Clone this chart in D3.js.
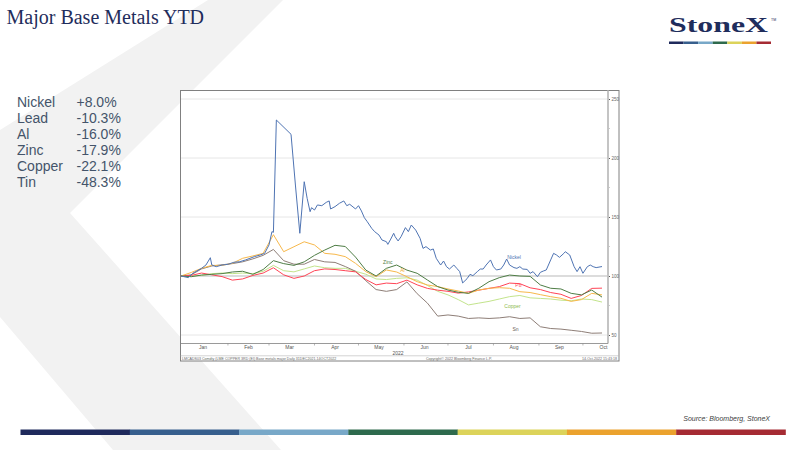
<!DOCTYPE html>
<html>
<head>
<meta charset="utf-8">
<script src="https://cdn.jsdelivr.net/npm/d3@7"></script>
<style>
  html, body { margin: 0; padding: 0; background: #fff; }
  svg { display: block; }
</style>
</head>
<body>
<svg id="chart" width="800" height="450"></svg>
<script>
const width = 800;
const height = 450;

// YTD change table on the left
const metalNames = ["Nickel", "Lead", "Al", "Zinc", "Copper", "Tin"];
const metalChanges = ["+8.0%", "-10.3%", "-16.0%", "-17.9%", "-22.1%", "-48.3%"];

// weekly closes, rebased to 100 on 31 Dec 2021
const weekDates = [
  "2021-12-31", "2022-01-07", "2022-01-14", "2022-01-21", "2022-01-28", "2022-02-04",
  "2022-02-11", "2022-02-18", "2022-02-25", "2022-03-04", "2022-03-11", "2022-03-18",
  "2022-03-25", "2022-04-01", "2022-04-08", "2022-04-15", "2022-04-22", "2022-04-29",
  "2022-05-06", "2022-05-13", "2022-05-20", "2022-05-27", "2022-06-03", "2022-06-10",
  "2022-06-17", "2022-06-24", "2022-07-01", "2022-07-08", "2022-07-15", "2022-07-22",
  "2022-07-29", "2022-08-05", "2022-08-12", "2022-08-19", "2022-08-26", "2022-09-02",
  "2022-09-09", "2022-09-16", "2022-09-23", "2022-09-30", "2022-10-07", "2022-10-14"
];
const alValues = [100, 103, 106.5, 109, 109, 110.7, 115, 117, 119.2, 135, 120.6, 124.8, 129, 126.3,
  119.2, 118.4, 116.4, 110.7, 103.7, 99.4, 105.1, 103.4, 99.4, 95.2, 92.4, 91, 89, 87.3, 85.3, 88.1,
  89.6, 90.1, 89.6, 86.7, 86, 84.2, 82.5, 81.1, 78.5, 80, 85.3, 84];
const zincValues = [100, 99.4, 100.8, 101.4, 102, 103.4, 104, 101.4, 105.5, 113, 110.5, 109, 112, 117.5,
  122, 126, 125, 116, 105, 100, 106.5, 109.3, 105, 102.3, 96.6, 91, 88.1, 86.2, 85.3, 89.6,
  95.2, 98.6, 100.8, 100, 99.7, 92.4, 89.6, 89, 85.3, 84, 88.1, 82.1];
const leadValues = [100, 100.5, 102.5, 101, 99.5, 96.5, 97.5, 100.5, 102.5, 107, 101, 98, 100, 104.5,
  106, 105.5, 104.5, 103.5, 97, 92.5, 94, 93.5, 96.5, 92.5, 89.5, 88, 87, 85.5, 86.5, 88,
  89.5, 91, 94, 93.5, 90, 88.5, 86, 84.5, 81, 83.5, 89.5, 89.7];
const copperValues = [100, 100, 100.5, 102, 102.5, 102, 102.5, 102, 104, 109, 104.5, 103.5, 106, 108.5,
  107, 106.5, 106.5, 104, 101.5, 97.5, 97, 98, 98.5, 96.5, 92, 87, 84, 80, 75.5, 77,
  78.5, 80.5, 82.5, 83.5, 81.5, 81, 80.5, 79.5, 79, 80.5, 80, 77.9];
const tinValues = [100, 101, 106, 108.5, 109.5, 110.5, 112, 114.5, 117.5, 122.5, 113, 110, 110, 114,
  112, 111.5, 108, 104, 96, 88.5, 87, 88.5, 95, 85, 77, 66, 67, 66, 64, 64.5,
  64, 64.5, 65.5, 64, 64.5, 57, 55.5, 55, 54, 53, 51.5, 51.7];

// nickel needs more points for the March squeeze
const nickelDates = [
  "2021-12-31", "2022-01-05", "2022-01-08", "2022-01-14", "2022-01-17", "2022-01-20", "2022-01-21",
  "2022-01-24", "2022-01-28", "2022-02-01", "2022-02-05", "2022-02-09", "2022-02-13", "2022-02-16",
  "2022-02-19", "2022-02-23", "2022-02-26", "2022-03-01", "2022-03-03", "2022-03-04", "2022-03-06",
  "2022-03-16", "2022-03-19", "2022-03-22", "2022-03-25", "2022-03-27", "2022-03-29", "2022-03-30",
  "2022-04-01", "2022-04-03", "2022-04-06", "2022-04-09", "2022-04-11", "2022-04-12", "2022-04-15",
  "2022-04-18", "2022-04-21", "2022-04-23", "2022-04-25", "2022-04-29", "2022-05-01", "2022-05-03",
  "2022-05-05", "2022-05-07", "2022-05-10", "2022-05-12", "2022-05-15", "2022-05-17", "2022-05-20",
  "2022-05-21", "2022-05-23", "2022-05-25", "2022-05-26", "2022-05-28", "2022-05-30", "2022-06-02",
  "2022-06-04", "2022-06-06", "2022-06-09", "2022-06-12", "2022-06-14", "2022-06-16", "2022-06-19",
  "2022-06-21", "2022-06-23", "2022-06-26", "2022-06-28", "2022-06-30", "2022-07-02", "2022-07-05",
  "2022-07-07", "2022-07-09", "2022-07-11", "2022-07-14", "2022-07-16", "2022-07-18", "2022-07-21",
  "2022-07-23", "2022-07-25", "2022-07-27", "2022-07-30", "2022-08-01", "2022-08-03", "2022-08-06",
  "2022-08-08", "2022-08-10", "2022-08-12", "2022-08-15", "2022-08-17", "2022-08-19", "2022-08-21",
  "2022-08-24", "2022-08-26", "2022-08-28", "2022-08-31", "2022-09-02", "2022-09-04", "2022-09-06",
  "2022-09-09", "2022-09-11", "2022-09-13", "2022-09-15", "2022-09-18", "2022-09-19", "2022-09-22",
  "2022-09-25", "2022-09-27", "2022-09-29", "2022-10-01", "2022-10-04", "2022-10-06", "2022-10-08",
  "2022-10-10", "2022-10-14"
];
const nickelValues = [
  100, 98.6, 102.3, 106.5, 109.3, 115.5, 109.3,
  107.9, 109.3, 109.9, 111.6, 112.1, 113.6, 115,
  116.4, 117.8, 119.2, 126.3, 137.6, 137, 232.2,
  220.1, 177.1, 136.2, 179.9, 165.8, 154.5, 157.9,
  155.9, 160.2, 159.6, 162.4, 163.6, 156.8, 158.8,
  161.6, 163.6, 159.6, 160.8, 156.8, 159.6, 155.1,
  149.4, 146, 140.4, 137.6, 134.7, 130.5, 129.1,
  126.8, 131.3, 136.2, 133.3, 129.7, 133.3, 141,
  137.6, 143.2, 138.9, 131.9, 123.4, 124.9, 122,
  122.9, 115, 109.3, 112.7, 107.9, 105.9, 109.3,
  106.5, 103.7, 94.1, 97.7, 101.4, 100.3, 103.7,
  105.9, 105.9, 109.3, 113.6, 107.9, 105.1, 105.9,
  109.3, 114.4, 109.3, 107.1, 106.5, 107.9, 105.9,
  105.6, 102.3, 103.7, 99.4, 103.1, 104.2, 105.1,
  113.6, 119.2, 117.8, 115.8, 119.2, 120.6, 117.8,
  107.9, 103.7, 107.9, 102.3, 107.9, 109.3, 107.9,
  107.1, 108
];

const yTicks = [50, 100, 150, 200, 250];
const yMinorTicks = [75, 125, 175, 225];
const monthLabels = ["Jan", "Feb", "Mar", "Apr", "May", "Jun", "Jul", "Aug", "Sep", "Oct"];
const footColors = ["#1f2a5c", "#375f8d", "#78a8c8", "#2e6a4d", "#dcd35a", "#eba22e", "#a52b33"];

const parse = d3.timeParse("%Y-%m-%d");

const svg = d3.select("#chart")
  .attr("viewBox", [0, 0, width, height]);

// light grey chevron behind everything
svg.append("polygon")
  .attr("points", [[208, 0], [283, 0], [70, 213], [281, 450], [113, 450], [0, 317], [0, 130]].join(" "))
  .attr("fill", "#f2f2f2");

svg.append("text")
  .attr("x", 6.5)
  .attr("y", 23.5)
  .attr("font-family", "Liberation Serif, Times New Roman, serif")
  .attr("font-size", 20)
  .attr("fill", "#1f2d5c")
  .text("Major Base Metals YTD");

// logo
svg.append("text")
  .attr("x", 669)
  .attr("y", 31.5)
  .attr("font-family", "Liberation Serif, Times New Roman, serif")
  .attr("font-weight", "bold")
  .attr("font-size", 20)
  .attr("textLength", 99)
  .attr("lengthAdjust", "spacingAndGlyphs")
  .attr("fill", "#1f2d5c")
  .text("StoneX");
svg.append("text")
  .attr("x", 771)
  .attr("y", 21)
  .attr("font-family", "Liberation Sans, Arial, sans-serif")
  .attr("font-size", 3.5)
  .attr("fill", "#1f2d5c")
  .text("TM");

const logoBand = d3.scaleBand().domain(d3.range(7)).range([669, 771]);
svg.append("g").selectAll("rect")
  .data(footColors)
  .join("rect")
    .attr("x", (d, i) => logoBand(i))
    .attr("y", 41.5)
    .attr("width", logoBand.bandwidth())
    .attr("height", 2.5)
    .attr("fill", d => d);

// YTD table
const table = svg.append("g")
  .attr("font-family", "Liberation Sans, Arial, sans-serif")
  .attr("font-size", 14)
  .attr("fill", "#44546a");
table.selectAll(".name")
  .data(metalNames)
  .join("text")
    .attr("class", "name")
    .attr("x", 17)
    .attr("y", (d, i) => 107 + i * 16)
    .text(d => d);
table.selectAll(".chg")
  .data(metalChanges)
  .join("text")
    .attr("class", "chg")
    .attr("x", 76.5)
    .attr("y", (d, i) => 107 + i * 16)
    .text(d => d);

// Bloomberg chart panel
const frame = { left: 180.5, top: 90.5, right: 619, bottom: 361 };
const plot = { left: 181, right: 608, top: 91, bottom: 343.5 };

svg.append("rect")
  .attr("x", frame.left)
  .attr("y", frame.top)
  .attr("width", frame.right - frame.left)
  .attr("height", frame.bottom - frame.top)
  .attr("fill", "#fff")
  .attr("stroke", "#808080")
  .attr("stroke-width", 1);

const x = d3.scaleTime()
  .domain([parse("2021-12-31"), parse("2022-10-14")])
  .range([plot.left, 602]);
const y = d3.scaleLinear()
  .domain([50, 250])
  .range([335, 99]);

// gridlines
svg.append("g").selectAll("line")
  .data(yTicks)
  .join("line")
    .attr("x1", plot.left)
    .attr("x2", plot.right)
    .attr("y1", d => y(d))
    .attr("y2", d => y(d))
    .attr("stroke", d => d === 100 ? "#dcdcdc" : "#e6e6e6")
    .attr("stroke-width", d => d === 100 ? 2 : 1);

// right axis
const yAxis = d3.axisRight(y)
  .tickValues(yTicks)
  .tickSize(2)
  .tickPadding(1.5);
const yg = svg.append("g")
  .attr("transform", `translate(${plot.right},0)`)
  .call(yAxis);
yg.select(".domain").remove();
yg.selectAll("line").attr("stroke", "#555").attr("stroke-width", 1);
yg.selectAll("text")
  .attr("font-family", "Liberation Sans, Arial, sans-serif")
  .attr("font-size", 4.5)
  .attr("fill", "#666");
svg.append("g").selectAll("circle")
  .data(yMinorTicks)
  .join("circle")
    .attr("cx", plot.right + 1)
    .attr("cy", d => y(d))
    .attr("r", 0.5)
    .attr("fill", "#777");
svg.append("line")
  .attr("x1", plot.right).attr("x2", plot.right)
  .attr("y1", frame.top).attr("y2", plot.bottom)
  .attr("stroke", "#c4c4c4")
  .attr("stroke-width", 2);

// bottom axis: month labels centred on the 15th, ticks on the 1st
const monthStarts = d3.timeMonth.range(parse("2022-01-01"), parse("2022-10-02"));
svg.append("line")
  .attr("x1", plot.left).attr("x2", plot.right)
  .attr("y1", plot.bottom).attr("y2", plot.bottom)
  .attr("stroke", "#9a9a9a")
  .attr("stroke-width", 1);
svg.append("g").selectAll("line")
  .data(monthStarts.slice(1))
  .join("line")
    .attr("x1", d => x(d)).attr("x2", d => x(d))
    .attr("y1", plot.bottom).attr("y2", plot.bottom + 2)
    .attr("stroke", "#888")
    .attr("stroke-width", 0.6);
svg.append("g")
  .attr("font-family", "Liberation Sans, Arial, sans-serif")
  .attr("font-size", 5)
  .attr("fill", "#555")
  .attr("text-anchor", "middle")
  .selectAll("text")
  .data(monthLabels)
  .join("text")
    .attr("x", (d, i) => x(new Date(2022, i, 15)))
    .attr("y", 349)
    .text(d => d);
svg.append("text")
  .attr("x", x(new Date(2022, 4, 28)))
  .attr("y", 354.5)
  .attr("text-anchor", "middle")
  .attr("font-family", "Liberation Sans, Arial, sans-serif")
  .attr("font-size", 5)
  .attr("fill", "#555")
  .text("2022");

// footer strip inside the panel
svg.append("line")
  .attr("x1", frame.left).attr("x2", frame.right)
  .attr("y1", 355.8).attr("y2", 355.8)
  .attr("stroke", "#b5b5b5")
  .attr("stroke-width", 0.6);
const foot = svg.append("g")
  .attr("font-family", "Liberation Sans, Arial, sans-serif")
  .attr("font-size", 3.6)
  .attr("fill", "#666");
foot.append("text").attr("x", 182).attr("y", 359.6)
  .text("LMCADS03 Comdty (LME COPPER     3RD (EI) Base metals major   Daily 31DEC2021-14OCT2022");
foot.append("text").attr("x", 459).attr("y", 359.6).attr("text-anchor", "middle")
  .text("Copyright\u00a9 2022 Bloomberg Finance L.P.");
foot.append("text").attr("x", 617).attr("y", 359.6).attr("text-anchor", "end")
  .text("14-Oct-2022 15:43:18");

// series
const weekly = weekDates.map(parse);
const series = [
  { name: "Copper", color: "#c3e48c", dates: weekly, values: copperValues },
  { name: "Tin", color: "#8e7e77", dates: weekly, values: tinValues },
  { name: "Lead", color: "#ff4456", dates: weekly, values: leadValues },
  { name: "Al", color: "#f7b84b", dates: weekly, values: alValues },
  { name: "Zinc", color: "#4e7d45", dates: weekly, values: zincValues },
  { name: "Nickel", color: "#4f74b3", dates: nickelDates.map(parse), values: nickelValues }
];

const line = d3.line()
  .x(d => x(d[0]))
  .y(d => y(d[1]));

svg.append("g")
  .attr("fill", "none")
  .attr("stroke-width", 1)
  .attr("stroke-linejoin", "round")
  .selectAll("path")
  .data(series)
  .join("path")
    .attr("stroke", d => d.color)
    .attr("d", d => line(d3.zip(d.dates, d.values)));

// in-chart labels
const lineLabels = [
  { text: "Nickel", date: "2022-08-15", value: 114, color: "#4f74b3" },
  { text: "Zinc", date: "2022-05-21", value: 110.5, color: "#4e7d45" },
  { text: "Al", date: "2022-05-31", value: 103, color: "#f0a830" },
  { text: "Pb", date: "2022-08-18", value: 90.5, color: "#ff4456" },
  { text: "Copper", date: "2022-08-14", value: 72.5, color: "#8fbb50" },
  { text: "Sn", date: "2022-08-16", value: 53.5, color: "#6a5d57" }
];
svg.append("g")
  .attr("font-family", "Liberation Sans, Arial, sans-serif")
  .attr("font-size", 5)
  .attr("text-anchor", "middle")
  .selectAll("text")
  .data(lineLabels)
  .join("text")
    .attr("x", d => x(parse(d.date)))
    .attr("y", d => y(d.value))
    .attr("fill", d => d.color)
    .text(d => d.text);

// bottom source + colour bar
svg.append("text")
  .attr("x", 770)
  .attr("y", 421)
  .attr("text-anchor", "end")
  .attr("font-family", "Liberation Sans, Arial, sans-serif")
  .attr("font-style", "italic")
  .attr("font-size", 7)
  .attr("fill", "#404040")
  .text("Source: Bloomberg, StoneX");

const footBand = d3.scaleBand().domain(d3.range(7)).range([20.5, 785.5]);
svg.append("g").selectAll("rect")
  .data(footColors)
  .join("rect")
    .attr("x", (d, i) => footBand(i))
    .attr("y", 429.5)
    .attr("width", footBand.bandwidth() + 0.3)
    .attr("height", 5.5)
    .attr("fill", d => d);
</script>
</body>
</html>
